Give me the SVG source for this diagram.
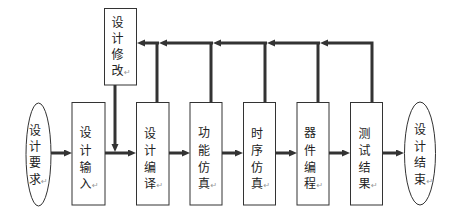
<svg xmlns="http://www.w3.org/2000/svg" width="460" height="220" viewBox="0 0 460 220">
<style>
.box{fill:#fff;stroke:#333;stroke-width:1}
.ln{fill:none;stroke:#333;stroke-width:3}
.t{font-family:"Noto Sans CJK SC","Liberation Sans",sans-serif;font-size:12px;fill:#222;text-anchor:middle}
.p{font-family:"DejaVu Sans",sans-serif;font-size:8px;fill:#999}
</style>
<defs>
<marker id="ah" markerUnits="userSpaceOnUse" markerWidth="9" markerHeight="8" refX="2" refY="3.5" orient="auto">
<path d="M0,0 L8,3.5 L0,7 z" fill="#333"/>
</marker>
</defs>
<rect width="460" height="220" fill="#fff"/>
<g id="connectors">
<line class="ln" x1="51" y1="153" x2="66" y2="153" marker-end="url(#ah)"/>
<line class="ln" x1="105" y1="153" x2="130" y2="153" marker-end="url(#ah)"/>
<line class="ln" x1="115" y1="85" x2="115" y2="146" marker-end="url(#ah)"/>
<line class="ln" x1="169" y1="153" x2="184" y2="153" marker-end="url(#ah)"/>
<line class="ln" x1="222" y1="153" x2="237" y2="153" marker-end="url(#ah)"/>
<line class="ln" x1="275" y1="153" x2="291" y2="153" marker-end="url(#ah)"/>
<line class="ln" x1="329" y1="153" x2="344" y2="153" marker-end="url(#ah)"/>
<line class="ln" x1="383" y1="153" x2="398" y2="153" marker-end="url(#ah)"/>
<polyline class="ln" points="372,102 372,43 326,43" marker-end="url(#ah)"/>
<line class="ln" x1="318" y1="102" x2="318" y2="43"/>
<line class="ln" x1="320" y1="43" x2="273" y2="43" marker-end="url(#ah)"/>
<line class="ln" x1="265" y1="102" x2="265" y2="43"/>
<line class="ln" x1="267" y1="43" x2="219" y2="43" marker-end="url(#ah)"/>
<line class="ln" x1="211" y1="102" x2="211" y2="43"/>
<line class="ln" x1="213" y1="43" x2="165" y2="43" marker-end="url(#ah)"/>
<line class="ln" x1="157" y1="102" x2="157" y2="43"/>
<line class="ln" x1="159" y1="43" x2="143" y2="43" marker-end="url(#ah)"/>
</g>
<g id="start">
<ellipse class="box" cx="38.5" cy="154.5" rx="12.5" ry="51.5"/>
<text class="t"><tspan x="35" y="134.5">设</tspan><tspan x="35" y="151">计</tspan><tspan x="35" y="167">要</tspan><tspan x="35" y="183.5">求</tspan></text>
<text class="p" x="41" y="183.5">↵</text>
</g>
<g id="input">
<rect class="box" x="72" y="102.5" width="33" height="102.5"/>
<text class="t"><tspan x="85.5" y="137">设</tspan><tspan x="85.5" y="155">计</tspan><tspan x="85.5" y="171.5">输</tspan><tspan x="85.5" y="188">入</tspan></text>
<text class="p" x="92" y="188">↵</text>
</g>
<g id="modify">
<rect class="box" x="104.5" y="8.5" width="32" height="76.5"/>
<text class="t"><tspan x="117.5" y="26.5">设</tspan><tspan x="117.5" y="42.5">计</tspan><tspan x="117.5" y="58.5">修</tspan><tspan x="117.5" y="75">改</tspan></text>
<text class="p" x="124" y="75">↵</text>
</g>
<g id="compile">
<rect class="box" x="136.5" y="102.5" width="32.5" height="102.5"/>
<text class="t"><tspan x="150" y="137.5">设</tspan><tspan x="150" y="155">计</tspan><tspan x="150" y="171.5">编</tspan><tspan x="150" y="188">译</tspan></text>
<text class="p" x="156.5" y="188">↵</text>
</g>
<g id="funcsim">
<rect class="box" x="190" y="102.5" width="32" height="102.5"/>
<text class="t"><tspan x="204" y="137">功</tspan><tspan x="204" y="155">能</tspan><tspan x="204" y="171.5">仿</tspan><tspan x="204" y="188">真</tspan></text>
<text class="p" x="210.5" y="188">↵</text>
</g>
<g id="timesim">
<rect class="box" x="243.5" y="102.5" width="32" height="102.5"/>
<text class="t"><tspan x="257" y="137.5">时</tspan><tspan x="257" y="155">序</tspan><tspan x="257" y="171.5">仿</tspan><tspan x="257" y="188">真</tspan></text>
<text class="p" x="263.5" y="188">↵</text>
</g>
<g id="program">
<rect class="box" x="297" y="102.5" width="32" height="102.5"/>
<text class="t"><tspan x="310" y="137">器</tspan><tspan x="310" y="155">件</tspan><tspan x="310" y="171.5">编</tspan><tspan x="310" y="188">程</tspan></text>
<text class="p" x="316.5" y="188">↵</text>
</g>
<g id="test">
<rect class="box" x="350.5" y="102.5" width="32" height="102.5"/>
<text class="t"><tspan x="364.5" y="137.5">测</tspan><tspan x="364.5" y="155">试</tspan><tspan x="364.5" y="171.5">结</tspan><tspan x="364.5" y="188">果</tspan></text>
<text class="p" x="371" y="188">↵</text>
</g>
<g id="end">
<ellipse class="box" cx="420" cy="153.5" rx="15.5" ry="51.5"/>
<text class="t"><tspan x="420" y="133.5">设</tspan><tspan x="420" y="151">计</tspan><tspan x="420" y="167">结</tspan><tspan x="420" y="183.5">束</tspan></text>
<text class="p" x="426.5" y="183.5">↵</text>
</g>
</svg>
